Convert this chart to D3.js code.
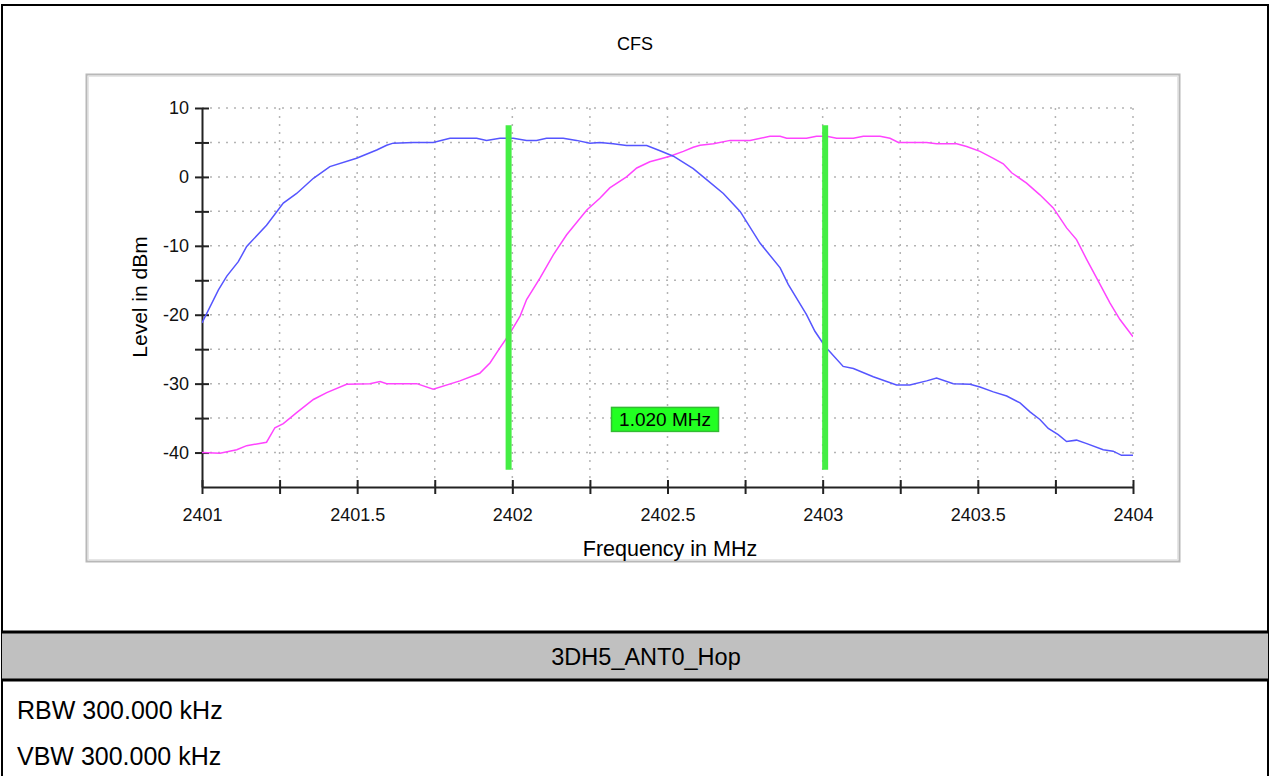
<!DOCTYPE html>
<html><head><meta charset="utf-8">
<script src="https://cdn.jsdelivr.net/npm/d3@7"></script>
<style>
html,body{margin:0;padding:0;background:#fff;}
svg{display:block;font-family:"Liberation Sans",Arial,sans-serif;}
</style></head>
<body>
<svg id="c" width="1271" height="776"></svg>
<script>
const blueFreq = [2401.000,2401.053,2401.080,2401.117,2401.144,2401.208,2401.262,2401.305,2401.359,2401.412,2401.498,2401.563,2401.595,2401.616,2401.681,2401.745,2401.799,2401.885,2401.917,2401.960,2402.003,2402.046,2402.078,2402.110,2402.164,2402.207,2402.250,2402.282,2402.325,2402.368,2402.433,2402.476,2402.519,2402.583,2402.626,2402.680,2402.734,2402.798,2402.863,2402.889,2402.948,2402.975,2403.008,2403.066,2403.099,2403.163,2403.238,2403.281,2403.335,2403.367,2403.421,2403.475,2403.507,2403.550,2403.593,2403.636,2403.668,2403.700,2403.727,2403.759,2403.786,2403.818,2403.851,2403.904,2403.936,2403.963,2404.000];
const blueLevel = [-21.2,-16.4,-14.4,-12.3,-10.1,-7.0,-3.8,-2.4,-0.2,1.5,2.7,3.9,4.6,4.9,5.0,5.0,5.6,5.6,5.3,5.6,5.6,5.3,5.3,5.6,5.6,5.3,4.9,5.0,4.8,4.55,4.55,3.8,3.0,1.2,-0.4,-2.4,-5.0,-9.6,-13.2,-15.6,-20.0,-22.4,-24.6,-27.5,-27.8,-29.0,-30.2,-30.2,-29.6,-29.2,-30.0,-30.1,-30.5,-31.2,-31.8,-32.8,-34.1,-35.2,-36.5,-37.4,-38.4,-38.2,-38.7,-39.6,-39.8,-40.4,-40.4];
const magentaFreq = [2401.000,2401.058,2401.112,2401.144,2401.208,2401.235,2401.262,2401.305,2401.359,2401.402,2401.466,2401.541,2401.574,2401.595,2401.692,2401.745,2401.831,2401.895,2401.928,2401.960,2401.992,2402.025,2402.046,2402.089,2402.132,2402.175,2402.240,2402.282,2402.314,2402.368,2402.401,2402.443,2402.476,2402.508,2402.551,2402.583,2402.605,2402.648,2402.702,2402.766,2402.830,2402.863,2402.884,2402.948,2402.980,2403.013,2403.045,2403.099,2403.131,2403.185,2403.217,2403.244,2403.335,2403.367,2403.432,2403.464,2403.507,2403.550,2403.582,2403.609,2403.657,2403.700,2403.743,2403.786,2403.818,2403.851,2403.883,2403.926,2403.958,2404.000];
const magentaLevel = [-40.0,-40.1,-39.6,-39.0,-38.5,-36.4,-35.8,-34.2,-32.3,-31.3,-30.1,-30.0,-29.7,-30.0,-30.0,-30.8,-29.6,-28.5,-27.0,-24.8,-22.7,-20.2,-17.8,-14.7,-11.3,-8.4,-4.8,-3.1,-1.6,0.0,1.3,2.2,2.6,3.0,3.7,4.3,4.6,4.8,5.3,5.3,5.9,5.9,5.6,5.6,5.9,5.9,5.6,5.6,5.9,5.9,5.6,5.0,5.0,4.8,4.8,4.4,3.7,2.7,1.9,0.6,-0.9,-2.6,-4.5,-7.4,-9.1,-12.0,-14.7,-18.3,-20.7,-23.2];
const markerFreq = [2401.988, 2403.008];
const markerSpan = [7.5, -42.5];
const markerLabel = "1.020 MHz";
const xTickValues = [2401,2401.25,2401.5,2401.75,2402,2402.25,2402.5,2402.75,2403,2403.25,2403.5,2403.75,2404];
const xTickLabels = ["2401","","2401.5","","2402","","2402.5","","2403","","2403.5","","2404"];
const yTickValues = [10,5,0,-5,-10,-15,-20,-25,-30,-35,-40];
const yTickLabels = ["10","","0","","-10","","-20","","-30","","-40"];
const chartTitle = "CFS";
const xTitle = "Frequency in MHz";
const yTitle = "Level in dBm";
const tableHeader = "3DH5_ANT0_Hop";
const tableRows = ["RBW 300.000 kHz","VBW 300.000 kHz"];

const svg = d3.select("#c");
const L = 202, R = 1133, T = 108, B = 487;
const x = d3.scaleLinear().domain([2401,2404]).range([L,R]);
const y = d3.scaleLinear().domain([-45,10]).range([B,T]);
const FONT = "Liberation Sans, Arial, sans-serif";

// outer frame
svg.append("rect").attr("x",2).attr("y",5).attr("width",1266).attr("height",776).attr("fill","none").attr("stroke","#000").attr("stroke-width",2);
// title
svg.append("text").attr("x",635).attr("y",50).attr("text-anchor","middle").attr("font-size",18).text(chartTitle);
// panel
svg.append("rect").attr("x",86.5).attr("y",74.5).attr("width",1093).attr("height",487).attr("fill","#fff").attr("stroke","#b8b8b8").attr("stroke-width",2);
svg.append("rect").attr("x",88.5).attr("y",76.5).attr("width",1089).attr("height",483).attr("fill","none").attr("stroke","#e6e6e6").attr("stroke-width",1);

// grid
const g = svg.append("g");
g.selectAll("line.hg").data(yTickValues).join("line")
  .attr("x1",L).attr("x2",R).attr("y1",d=>y(d)).attr("y2",d=>y(d))
  .attr("stroke","#b4b4b4").attr("stroke-width",1.5).attr("stroke-dasharray","2,6");
g.selectAll("line.vg").data(xTickValues.slice(1)).join("line")
  .attr("y1",T).attr("y2",B).attr("x1",d=>x(d)).attr("x2",d=>x(d))
  .attr("stroke","#b4b4b4").attr("stroke-width",1.5).attr("stroke-dasharray","2,6");

// axes
const xAxis = d3.axisBottom(x).tickValues(xTickValues).tickFormat((d,i)=>xTickLabels[i]).tickSizeInner(7).tickSizeOuter(0).tickPadding(14);
const xg = svg.append("g").attr("transform",`translate(0,${B})`).call(xAxis);
xg.select(".domain").attr("stroke","#222").attr("stroke-width",2);
xg.selectAll(".tick line").attr("stroke","#222").attr("stroke-width",2).attr("y1",-7);
xg.selectAll(".tick text").attr("font-size",18).attr("fill","#111").attr("font-family",FONT);

const yAxis = d3.axisLeft(y).tickValues(yTickValues).tickFormat((d,i)=>yTickLabels[i]).tickSizeInner(7).tickSizeOuter(0).tickPadding(6);
const yg = svg.append("g").attr("transform",`translate(${L},0)`).call(yAxis);
yg.select(".domain").attr("stroke","#222").attr("stroke-width",2);
yg.selectAll(".tick line").attr("stroke","#222").attr("stroke-width",2).attr("x1",7);
yg.selectAll(".tick text").attr("font-size",18).attr("fill","#111").attr("font-family",FONT);

// axis titles
svg.append("text").attr("x",670).attr("y",556).attr("text-anchor","middle").attr("font-size",21.5).text(xTitle);
svg.append("text").attr("transform","translate(147,297) rotate(-90)").attr("text-anchor","middle").attr("font-size",21).text(yTitle);

// traces
svg.append("defs").append("clipPath").attr("id","clip").append("rect").attr("x",L).attr("y",T-5).attr("width",R-L).attr("height",B-T+5);
const line = d3.line().x(d=>x(d[0])).y(d=>y(d[1]));
const blue = blueFreq.map((f,i)=>[f,blueLevel[i]]);
const mag = magentaFreq.map((f,i)=>[f,magentaLevel[i]]);
svg.append("path").datum(mag).attr("d",line).attr("fill","none").attr("stroke","#ff44ff").attr("stroke-width",1.5).attr("clip-path","url(#clip)");
svg.append("path").datum(blue).attr("d",line).attr("fill","none").attr("stroke","#5555ff").attr("stroke-width",1.5).attr("clip-path","url(#clip)");

// markers
svg.selectAll("line.mk").data(markerFreq).join("line")
  .attr("x1",d=>x(d)).attr("x2",d=>x(d)).attr("y1",y(markerSpan[0])).attr("y2",y(markerSpan[1]))
  .attr("stroke","#44ee44").attr("stroke-width",6);
// marker label
const lbX = x(2402.3196), lbY = y(-33.45);
svg.append("rect").attr("x",lbX).attr("y",lbY).attr("width",107).attr("height",24).attr("fill","#22ff22").attr("stroke","#33bb33").attr("stroke-width",1.5);
svg.append("text").attr("x",lbX+53.5).attr("y",lbY+19).attr("text-anchor","middle").attr("font-size",19).text(markerLabel);

// table
svg.append("rect").attr("x",2).attr("y",632).attr("width",1266).attr("height",48).attr("fill","#c0c0c0");
svg.append("line").attr("x1",2).attr("x2",1268).attr("y1",632).attr("y2",632).attr("stroke","#000").attr("stroke-width",3);
svg.append("line").attr("x1",2).attr("x2",1268).attr("y1",680).attr("y2",680).attr("stroke","#000").attr("stroke-width",3);
svg.append("text").attr("x",646).attr("y",665).attr("text-anchor","middle").attr("font-size",23.5).text(tableHeader);
svg.selectAll("text.row").data(tableRows).join("text")
  .attr("x",17).attr("y",(d,i)=>719+i*46).attr("font-size",25).text(d=>d);
</script>
</body></html>
